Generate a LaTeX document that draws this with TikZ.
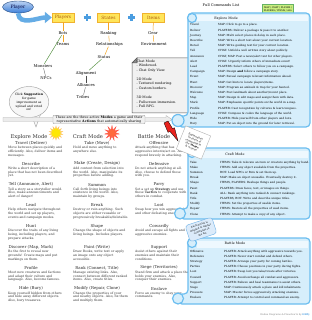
\documentclass[tikz,border=0pt]{standalone}
\usepackage{fontspec}
\setmainfont{DejaVu Serif}
\usetikzlibrary{arrows.meta,shapes.geometric}

\definecolor{boxyellow}{HTML}{FFE55A}
\definecolor{boxedge}{HTML}{F0B22E}
\definecolor{boxtext}{HTML}{A8560A}
\definecolor{linkorange}{HTML}{F5A623}
\definecolor{linkgreen}{HTML}{4E8C3A}
\definecolor{plusblue}{HTML}{4A9DE0}
\definecolor{scrollblue}{HTML}{6CBEF0}
\definecolor{scrollfill}{HTML}{D6EEFB}
\definecolor{headfill}{HTML}{EEF8FE}
\definecolor{notegray}{HTML}{F1F1F1}
\definecolor{playerblue}{HTML}{3D7FD9}
\definecolor{keygreen}{HTML}{C9EE7E}
\definecolor{tipblue}{HTML}{DCEBFA}
\definecolor{boltred}{HTML}{E8231E}
\definecolor{burstred}{HTML}{FF6A3D}

\begin{document}
\begin{tikzpicture}[
x=1pt, y=-1pt,
playerstyle/.style={ellipse, draw=playerblue!60!black, top color=playerblue!35, bottom color=playerblue, text=blue!25!black, minimum width=31pt, minimum height=12pt, inner sep=0pt, font=\fontsize{4.6}{5}\selectfont},
bigarrow/.style={-{Triangle[length=7pt,width=11pt]}, line width=4.5pt, plusblue!85},
topic/.style={draw=boxedge, fill=boxyellow, text=boxtext, minimum width=22pt, minimum height=9pt, inner sep=0pt, font=\fontsize{4.4}{5}\selectfont},
subitem/.style={font=\fontsize{3.9}{4.5}\selectfont, inner sep=0.6pt},
treeline/.style={linkorange, line width=0.5pt},
crossline/.style={linkgreen, line width=0.45pt},
thinline/.style={black!70, line width=0.35pt},
plussign/.style={plusblue, line width=2.2pt},
notebox/.style={draw=black!65, fill=notegray, line width=0.5pt},
notetext/.style={font=\fontsize{3.3}{4.3}\selectfont, align=left, inner sep=0pt, anchor=north west},
bubble/.style={draw=gray!70, fill=gray!6, line width=0.45pt},
bubbletext/.style={ellipse, draw=gray!70, fill=gray!6, line width=0.45pt, minimum width=39pt, minimum height=31pt, inner sep=0pt, align=center, font=\fontsize{3.05}{3.9}\selectfont},
bannerbar/.style={draw=gray!60, fill=gray!15, line width=0.4pt},
banner/.style={draw=gray!70, fill=gray!12, rounded corners=1pt, minimum width=92pt, minimum height=8.5pt, inner sep=0pt, align=center, font=\fontsize{3.3}{3.7}\selectfont},
modetitle/.style={font=\fontsize{5.2}{6}\selectfont, text=black!80, inner sep=0pt},
sun/.style={star, star points=14, star point ratio=1.7, fill=yellow!90!orange, draw=orange!50, line width=0.3pt, minimum size=14pt, inner sep=0pt},
burst/.style={star, star points=11, star point ratio=2.3, fill=burstred, draw=red!70, line width=0.3pt, minimum size=15pt, inner sep=0pt},
actname/.style={font=\fontsize{4.0}{4.5}\selectfont, text=black!85, inner sep=0pt},
actdesc/.style={font=\fontsize{3.15}{3.8}\selectfont, text=black!80, align=left, inner sep=0pt, anchor=north west},
scroll/.style={draw=scrollblue, fill=scrollfill, line width=1.2pt, rounded corners=4pt},
curl/.style={draw=scrollblue, fill=scrollfill, line width=1.2pt},
panelhead/.style={font=\fontsize{3.3}{4}\selectfont, inner sep=0pt},
cmdlist/.style={font=\fontsize{2.8}{5.2}\selectfont, inner sep=0pt, anchor=north west},
listtitle/.style={font=\fontsize{3.6}{4}\selectfont, inner sep=0pt},
keybox/.style={draw=green!50!black!60, fill=keygreen, minimum width=31pt, minimum height=10pt, inner sep=0pt, align=center, font=\fontsize{2.3}{2.9}\selectfont},
paper/.style={draw=gray!60, fill=white, minimum width=27pt, minimum height=25pt, inner sep=0pt, align=center, font=\fontsize{2.5}{3.1}\selectfont},
tipnote/.style={draw=plusblue!80, fill=tipblue, rounded corners=3pt, minimum width=28pt, minimum height=17pt, inner sep=0pt, align=center, font=\fontsize{2.4}{3.3}\selectfont}
]

\fill[white] (0,0) rectangle (311,320);
\useasboundingbox (0,0) rectangle (311,320);

% player and what a game is made of
\node[playerstyle](player) at (18,7) {Player};

\node[topic](players) at (63,17.5) {Players};

\node[topic](states) at (108.5,17.5) {States};

\node[topic](items) at (153.5,17.5) {Items};

\draw[bigarrow] (player.south) to[out=-85,in=180] (players.west);

\draw[plussign] (87,14) -- (87,21) (83.5,17.5) -- (90.5,17.5);
\draw[plussign] (131.5,14) -- (131.5,21) (128,17.5) -- (135,17.5);

\node[subitem](bots) at (63,33) {Bots};
\node[subitem](teams) at (63,44) {Teams};
\node[subitem](monsters) at (43,66) {Monsters};
\node[subitem](npcs) at (46,78) {NPCs};
\node[subitem](ranking) at (108.5,33) {Ranking};
\node[subitem](relations) at (109.5,44) {Relationships};
\node[subitem](status) at (104,57) {Status};
\node[subitem](alignment) at (86,73) {Alignment};
\node[subitem](alliances) at (86,85) {Alliances};
\node[subitem](tribes) at (83,97) {Tribes};
\node[subitem](gear) at (153,33) {Gear};
\node[subitem](environment) at (154,44) {Environment};

\draw[treeline] (players) -- (bots);
\draw[treeline] (bots) -- (teams);
\draw[treeline] (states) -- (ranking);
\draw[treeline] (ranking) -- (relations);
\draw[treeline] (relations) -- (status);
\draw[treeline] (items) -- (gear);
\draw[treeline] (gear) -- (environment);
\draw[crossline] (bots) -- (monsters);
\draw[crossline] (status) -- (alignment);
\draw[thinline] (monsters) -- (npcs);
\draw[thinline] (alignment) -- (alliances);
\draw[thinline] (alliances) -- (tribes);

% view modes note
\draw[notebox] (137,58) -- (191,58) -- (191,113) -- (132,113) -- (132,63) -- cycle;
\draw[notebox, fill=black!45] (132,63) -- (137,63) -- (137,58) -- cycle;
\node[notetext](viewmodes) at (136.5,59.8) {Chat Mode\\- Windowed.\\- Chat Only View.\\[5.2pt]2D Mode\\- Textured rendering.\\- Custom borders.\\[5.2pt]3D Mode\\- Fullscreen immersion.\\- Full RPG.};

% suggestion bubble
\draw[bubble] (31,114) -- (36,127) -- (41,113);
\node[bubbletext](suggest) at (29,102) {Click \textbf{Suggestion}\\for game\\improvement as\\upload and voted\\on!};

% banner over the three modes
\draw[bannerbar] (3,117.5) -- (166,117.5) -- (166,115.5) -- (172,119.5) -- (166,123.5) -- (166,121.5) -- (3,121.5) -- cycle;
\node[banner](modesnote) at (99,119.5) {These are the three active \textbf{Modes} a game and their\\representative \textbf{Actions} that automatically sharing};

% the three modes
\node[modetitle](explore) at (29,137) {Explore Mode};
\node[sun](exploreicon) at (56,133) {};
\node[modetitle](craft) at (88,137) {Craft Mode};
\node[burst](crafticon) at (112,133) {};
\node[modetitle](battle) at (154,137) {Battle Mode};

% explore actions
\node[actname](travel) at (31,143) {Travel (Deliver)};
\node[actdesc](traveltext) at (8,145.9) {Move between places quickly and\\efficiently. Also, deliver items and\\messages.};
\node[actname](describe) at (31,163.8) {Describe};
\node[actdesc](describetext) at (8,166.7) {Write a short description of a\\place that has not been described\\yet.};
\node[actname](tell) at (31,184.6) {Tell (Announce, Alert)};
\node[actdesc](telltext) at (8,187.5) {Tell a story as a storyteller would.\\Also, make announcements and\\alert of danger!};
\node[actname](lead) at (31,205.4) {Lead};
\node[actdesc](leadtext) at (8,208.3) {Help others navigate throughout\\the world and set up players,\\events and campaign modes.};
\node[actname](hunt) at (31,226.2) {Hunt};
\node[actdesc](hunttext) at (8,229.1) {Discover the traits of any living\\being, including players, and\\prepare attacks.};
\node[actname](discover) at (31,247) {Discover (Map, Mark)};
\node[actdesc](discovertext) at (8,249.9) {Be the first to reveal new\\grounds! Create maps and put\\markings on them.};
\node[actname](profile) at (31,267.8) {Profile};
\node[actdesc](profiletext) at (8,270.7) {Meet new creatures and factions\\and adapt their culture and\\language. Also, become famous.};
\node[actname](hide) at (31,288.6) {Hide (Bury)};
\node[actdesc](hidetext) at (8,291.5) {Keep yourself hidden from others\\and hide away different objects.\\Also, bury treasures.};

% craft actions
\node[actname](take) at (97,143) {Take (Move)};
\node[actdesc](taketext) at (73,145.9) {Hold and move anything to\\anywhere else.};
\node[actname](make) at (97,163.8) {Make (Create, Design)};
\node[actdesc](maketext) at (73,166.7) {Add content from selection into\\the world. Also, manipulate its\\properties before adding.};
\node[actname](summon) at (97,184.6) {Summon};
\node[actdesc](summontext) at (73,187.5) {Call forth living beings into\\existence in the world. Also,\\maintain by groups.};
\node[actname](break) at (97,205.4) {Break};
\node[actdesc](breaktext) at (73,208.3) {Destroy or ruin anything. Such\\objects are either reusable or\\progressively breakable/deletable.};
\node[actname](shape) at (97,226.2) {Shape};
\node[actdesc](shapetext) at (73,229.1) {Change the shape of objects and\\living beings. Includes players.};
\node[actname](paint) at (97,247) {Paint (Write)};
\node[actdesc](painttext) at (73,249.9) {Draw Books, write text or apply\\an image onto any object\\accessible.};
\node[actname](rank) at (97,267.8) {Rank (Connect, Title)};
\node[actdesc](ranktext) at (73,270.7) {Manage existing links. Also,\\connect between different ranked\\items. Also, create titles.};
\node[actname](modify) at (97,288.6) {Modify (Repair, Clone)};
\node[actdesc](modifytext) at (73,291.5) {Change the properties of your\\and nearby objects. Also, fix them\\and multiply them.};

% battle actions
\node[actname](offensive) at (159,143) {Offensive};
\node[actdesc](offensivetext) at (135,145.9) {Attack anything that has\\aggressive intents/act on. Also,\\respond bravely in attacking.};
\node[actname](defensive) at (159,163.8) {Defensive};
\node[actdesc](defensivetext) at (135,166.7) {Do not attack anything at all.\\Also, choose to defend those\\with you.};
\node[actname](parry) at (159,184.6) {Parry};
\node[actdesc](parrytext) at (135,187.5) {Set a set up \textbf{Strategy} and use\\these \textbf{Tactics} to cooperate with\\others in combat.};
\node[actname](loot) at (159,205.4) {Loot};
\node[actdesc](loottext) at (135,208.3) {Swap how you win aggressively\\and other defeating enemies.};
\node[actname](cowardly) at (159,226.2) {Cowardly};
\node[actdesc](cowardlytext) at (135,229.1) {Avoid and escape all fights and\\aggressive enemies.};
\node[actname](support) at (159,247) {Support};
\node[actdesc](supporttext) at (135,249.9) {Assist others against their\\enemies and maintain their\\conditions.};
\node[actname](siege) at (159,267.8) {Siege (Territories)};
\node[actdesc](siegetext) at (135,270.7) {Stand firm and attack a place that\\holds your enemies. Also,\\conquer their enemies.};
\node[actname](enslave) at (159,288.6) {Enslave};
\node[actdesc](enslavetext) at (135,291.5) {Force an enemy to obey your\\commands.};

% full commands list
\node[listtitle](cmdtitle) at (221,5) {Full Commands List};
\node[keybox](cmdkey) at (278,9.5) {MAP / CHAT / PLAYER /\\PLAYERS / ITEMS / ALL};

\draw[scroll] (188,13) -- (310,13) -- (310,127) -- (178,127) -- (178,116) -- (188,116) -- cycle;
\fill[headfill] (197,15.5) rectangle (308.4,21.5);
\draw[curl] (192,18) circle (4.5);
\draw[curl] (178,120.5) circle (6);
\node[panelhead](explorehead) at (226,18.5) {Explore Mode};
\node[cmdlist](explorecmds) at (190,22) {\begin{tabular}{@{}p{28pt}@{}l@{}}
Travel & MAP: Click to go to a place.\\
Deliver & PLAYERS: Deliver a package \& pass it to another.\\
Journey & MAP: Multi select places \& delay in each place.\\
Describe & MAP: Write a short text about your current location.\\
Detail & MAP: Write guiding text for your current location.\\
Tell & CHAT: Unfold a well written story about publicly.\\
Announce & CHAT, MAP: Post a news/alert text for other players.\\
Alert & CHAT: Urgently inform others of immediate event!\\
Lead & PLAYERS: Select others to follow you on a campaign.\\
Campaign & MAP: Design \textbf{and} follow a campaign story.\\
Event & MAP: Reveal campaign relevant information ahead.\\
Hunt & MAP: Get hints to locate players/items.\\
Discover & MAP: Program an ambush \& trap for your hunted.\\
Welcome & MAP: Post landmark about another/recent place.\\
Map & MAP: Design \& edit maps and assign them with data.\\
Mark & MAP: Emphasize specific points on the world in a map.\\
Profile & PLAYER: Cast recognition by cultures \& learn tongues.\\
Language & CHAT: Compose \& codex the language of the world.\\
Hide & PLAYER: Hide yourself from other players and bots.\\
Bury & MAP: Put an object into the ground for later retrieval.
\end{tabular}};

\draw[scroll] (188,148) -- (310,148) -- (310,219) -- (180,219) -- (180,209) -- (188,209) -- cycle;
\fill[headfill] (197,150.5) rectangle (308.4,157.5);
\draw[curl] (192,153) circle (4.5);
\draw[curl] (180,213.5) circle (5.5);
\node[panelhead](crafthead) at (235,154) {Craft Mode};
\node[cmdlist](craftcmds) at (190,159.3) {\begin{tabular}{@{}p{30pt}@{}l@{}}
Take & ITEMS: Take \& relocate an item or creature anything by hand.\\
Make & ITEMS: Add any object available from the properties.\\
Summon & BOT: Load NPCs or Bots \& set them up.\\
Break & MAP: Make an object unusable. Eventually destroy it.\\
Shape & ITEMS, PLAYERS: Reshape things and people.\\
Paint & PLAYERS: Draw faces, text, or images on things.\\
Rank & ALL: Rank anything into ranked \& connect rankings.\\
Title & PLAYERS, BOT: Write and describe unique titles.\\
Modify & ITEMS: Set the properties of usable items.\\
Repair & ITEMS: Restore all the properties of used items.\\
Clone & ITEMS: Attempt to make a copy of any object.
\end{tabular}};

\draw[scroll] (188,238) -- (310,238) -- (310,304) -- (178,304) -- (178,294) -- (188,294) -- cycle;
\fill[headfill] (197,240.5) rectangle (308.4,247.5);
\draw[curl] (192,243) circle (4.5);
\draw[curl] (178,298.5) circle (5.5);
\node[panelhead](battlehead) at (235,243) {Battle Mode};
\node[cmdlist](battlecmds) at (190,248.3) {\begin{tabular}{@{}p{34pt}@{}l@{}}
Offensive & PLAYER: Attack anything with aggressive towards you.\\
Defensive & PLAYER: Never start combat and defend others.\\
Strategy & PLAYER: Arrange your party for coming battles.\\
Parties & PLAYER: Choose positions in your party during fights.\\
Loot & PLAYER: Swap loot you take/create after victories.\\
Coward & PLAYER: Avoid exchange all combat and aggressors.\\
Support & PLAYER: Relieve and heal teammates to assist others.\\
Siege & MAP: Continuously attack a place and kill inhabitants.\\
Pressure & MAP: Muster forces aggressively attacking enemies.\\
Enslave & PLAYER: Attempt to control and command an enemy.
\end{tabular}};

% lightning, notes and footer
\filldraw[fill=boltred, draw=black, line width=0.3pt] (164,123) -- (168,121) -- (172.5,128.5) -- (174.5,127.8) -- (178,141) -- (170,131.5) -- (168,132.3) -- cycle;

\node[paper, rotate=-22](explain) at (193.5,142.5) {Explanation\\Sections of\\commands in\\the \textbf{Modes}\\\& actions};

\node[tipnote, rotate=18](mapping) at (201,229.5) {Each Action is\\mapped to similar\\commands in\\the list};

\node[font=\fontsize{2.4}{3}\selectfont, text=gray, inner sep=0pt](footer) at (285,315) {Online Diagrams \& Flowcharts by \textcolor{plusblue}{\textbf{Gliffy}}};
\end{tikzpicture}
\end{document}
